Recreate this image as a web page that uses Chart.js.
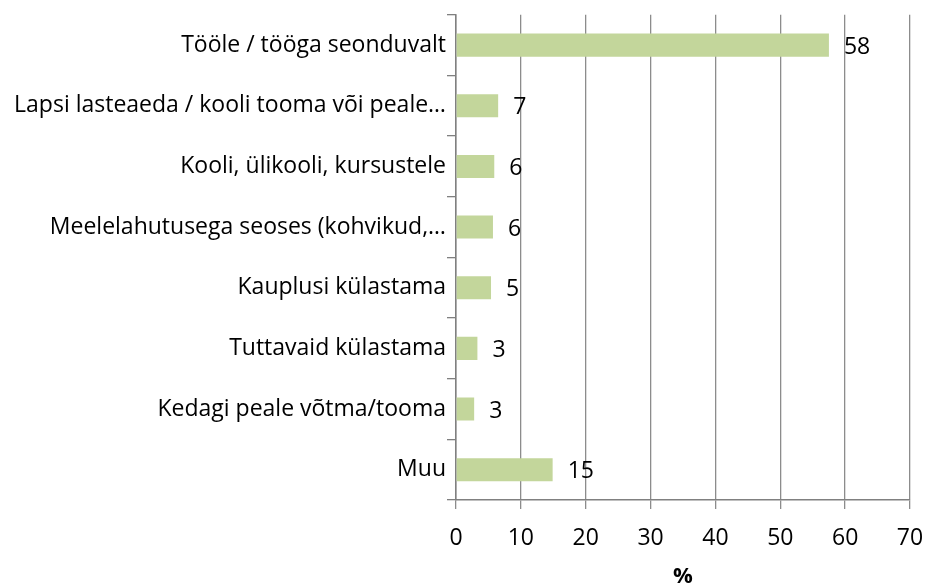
<!DOCTYPE html>
<html>
<head>
<meta charset="utf-8">
<script src="https://cdn.jsdelivr.net/npm/chart.js@4.4.1/dist/chart.umd.min.js"></script>
<style>
    html, body { margin: 0; padding: 0; background: #fff; }
    #wrap { width: 926px; height: 585px; }
</style>
</head>
<body>
<div id="wrap"><canvas id="tripChart" width="926" height="585"></canvas></div>
<script>
// Andmed (loetud pildilt)
const categories = [
    'Tööle / tööga seonduvalt',
    'Lapsi lasteaeda / kooli tooma või peale…',
    'Kooli, ülikooli, kursustele',
    'Meelelahutusega seoses (kohvikud,…',
    'Kauplusi külastama',
    'Tuttavaid külastama',
    'Kedagi peale võtma/tooma',
    'Muu'
];
const percentValues = [57.5, 6.5, 5.9, 5.7, 5.4, 3.3, 2.8, 14.9];
const xTicks = [0, 10, 20, 30, 40, 50, 60, 70];
const axisTitle = '%';

const FONT = '"Open Sans", "Liberation Sans", sans-serif';
const GRID = '#8c8c8c';
const AXIS = '#808080';

// väärtuse sildid tulpade järel
const barValueLabels = {
    id: 'barValueLabels',
    afterDatasetsDraw: function (chart) {
        const ctx = chart.ctx;
        const meta = chart.getDatasetMeta(0);
        ctx.save();
        ctx.font = '23px ' + FONT;
        ctx.fillStyle = '#000';
        ctx.textAlign = 'left';
        ctx.textBaseline = 'middle';
        meta.data.forEach(function (bar, i) {
            ctx.fillText(String(Math.round(percentValues[i])), bar.x + 15, bar.y + 2);
        });
        ctx.restore();
    }
};

const ctx = document.getElementById('tripChart').getContext('2d');
new Chart(ctx, {
    type: 'bar',
    data: {
        labels: categories,
        datasets: [{
            data: percentValues,
            backgroundColor: '#c3d69b',
            borderWidth: 0,
            categoryPercentage: 1,
            barPercentage: 0.38
        }]
    },
    options: {
        indexAxis: 'y',
        responsive: false,
        animation: false,
        layout: { padding: { top: 14, right: 16, left: 0, bottom: 0 } },
        plugins: {
            legend: { display: false },
            tooltip: { enabled: false }
        },
        scales: {
            x: {
                min: 0,
                max: 70,
                afterBuildTicks: function (scale) {
                    scale.ticks = xTicks.map(function (v) { return { value: v }; });
                },
                afterFit: function (scale) {
                    scale.height = 85;
                    scale.paddingLeft = 0;
                    scale.paddingRight = 0;
                },
                grid: {
                    color: GRID,
                    lineWidth: 1.3,
                    tickLength: 9,
                    drawTicks: true
                },
                border: { color: AXIS, width: 1.5 },
                ticks: {
                    color: '#000',
                    padding: 16,
                    font: { family: FONT, size: 23 }
                },
                title: {
                    display: true,
                    text: axisTitle,
                    color: '#000',
                    font: { family: FONT, size: 22, weight: 'bold', lineHeight: 1 },
                    padding: { top: 0, bottom: -3 }
                }
            },
            y: {
                afterFit: function (scale) { scale.width = 456; },
                grid: {
                    offset: true,
                    drawOnChartArea: false,
                    color: AXIS,
                    lineWidth: 1.3,
                    tickLength: 9
                },
                border: { color: AXIS, width: 1.5 },
                ticks: {
                    color: '#000',
                    padding: 1,
                    font: { family: FONT, size: 23 }
                }
            }
        }
    },
    plugins: [barValueLabels]
});
</script>
</body>
</html>
